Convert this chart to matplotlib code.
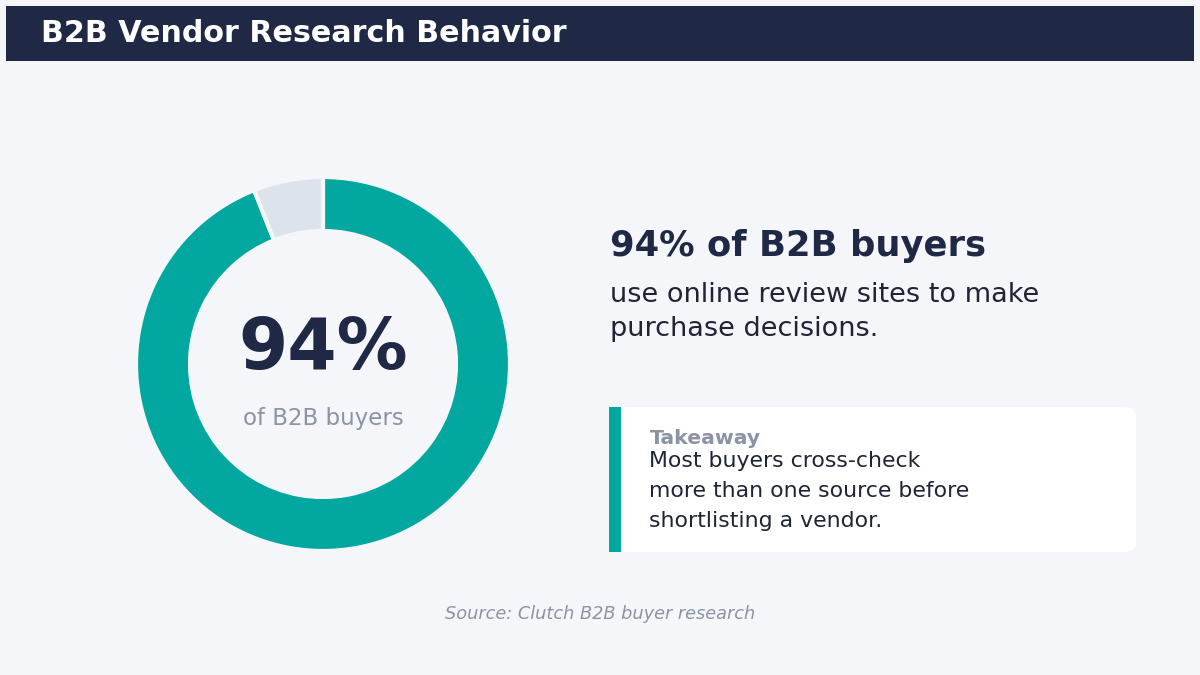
import matplotlib.pyplot as plt
from matplotlib.patches import Rectangle, FancyBboxPatch

# data
labels = ["Use review sites", "Other"]
shares = [94, 6]
colors = ["#02A8A0", "#DDE3EA"]

title = "B2B Vendor Research Behavior"
big_value = "94%"
big_sub = "of B2B buyers"
headline = "94% of B2B buyers"
headline_sub = "use online review sites to make\npurchase decisions."
takeaway_title = "Takeaway"
takeaway_body = "Most buyers cross-check\nmore than one source before\nshortlisting a vendor."
source = "Source: Clutch B2B buyer research"

BG = "#F5F6FA"
NAVY = "#1F2945"
GRAY = "#8B93A6"
INK = "#1F2535"

W, H = 1200, 675
fig = plt.figure(figsize=(12, 6.75), dpi=100)
fig.patch.set_facecolor(BG)


def fx(x):
    return x / W


def fy(y):
    return 1 - y / H


# header band
fig.patches.append(Rectangle((fx(6), fy(61)), fx(1188), 55 / H,
                             transform=fig.transFigure, facecolor=NAVY,
                             edgecolor="none", zorder=0))
fig.text(fx(41), fy(33), title, color="white", fontsize=21.7,
         fontweight="bold", va="center", ha="left")

# donut
cx, cy, r = 323, 364, 187
ax = fig.add_axes([fx(cx - r), fy(cy + r), 2 * r / W, 2 * r / H])
ax.pie(shares, colors=colors, startangle=90, counterclock=False, radius=1,
       wedgeprops=dict(width=54 / 187, edgecolor=BG, linewidth=3))
ax.set_xlim(-1, 1)
ax.set_ylim(-1, 1)
ax.set_aspect("equal")
ax.axis("off")

fig.text(fx(cx), fy(349), big_value, color=NAVY, fontsize=51,
         fontweight="bold", ha="center", va="center")
fig.text(fx(cx), fy(418), big_sub, color=GRAY, fontsize=16.5,
         ha="center", va="center")

# right side text
fig.text(fx(610), fy(246), headline, color=NAVY, fontsize=25.5,
         fontweight="bold", ha="left", va="center")
fig.text(fx(610), fy(312), headline_sub, color=INK, fontsize=19.5,
         ha="left", va="center", linespacing=1.42)

# takeaway card
fig.patches.append(FancyBboxPatch((fx(609), fy(552)), fx(527), 145 / H,
                                  boxstyle="round,pad=0,rounding_size=0.012",
                                  transform=fig.transFigure, facecolor="white",
                                  edgecolor="none", zorder=0))
fig.patches.append(Rectangle((fx(609), fy(552)), fx(12), 145 / H,
                             transform=fig.transFigure, facecolor=colors[0],
                             edgecolor="none", zorder=1))
fig.text(fx(650), fy(438), takeaway_title, color=GRAY, fontsize=14.7,
         fontweight="bold", ha="left", va="center")
fig.text(fx(649), fy(491), takeaway_body, color=INK, fontsize=15.8,
         ha="left", va="center", linespacing=1.63)

fig.text(0.5, fy(614), source, color=GRAY, fontsize=12.75, style="italic",
         ha="center", va="center")

fig.savefig("out.png", dpi=100, facecolor=BG)
